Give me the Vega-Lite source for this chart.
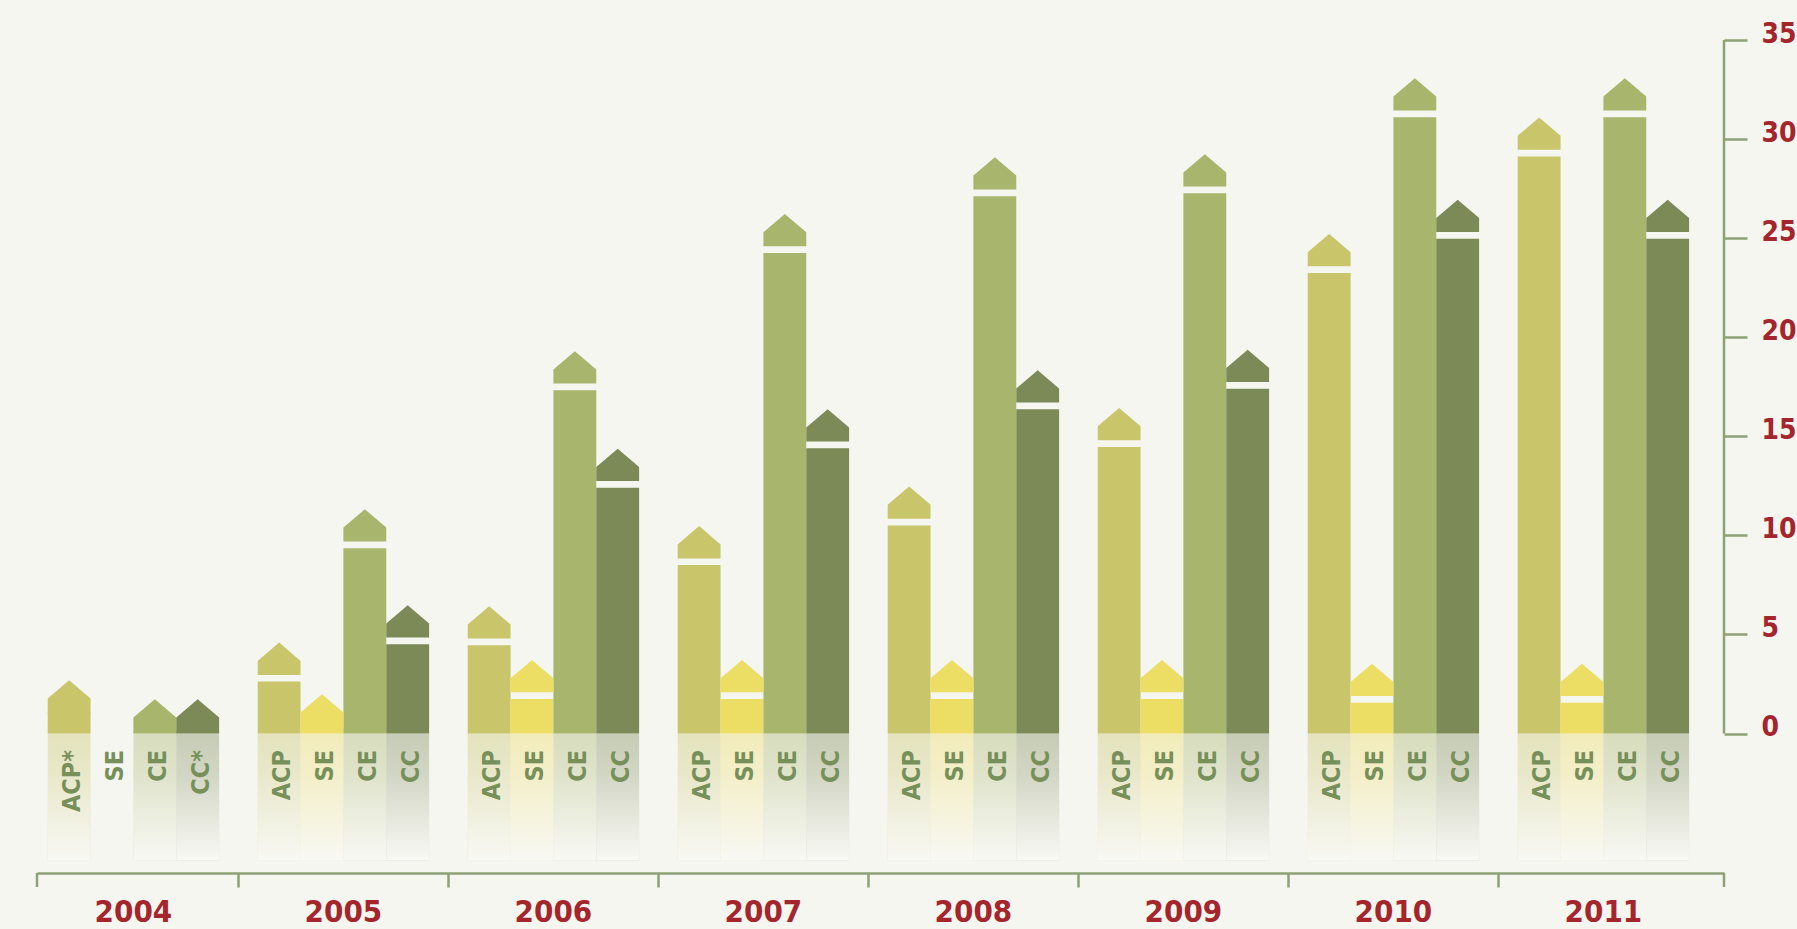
{
  "$schema": "https://vega.github.io/schema/vega-lite/v6.json",
  "width": 1687,
  "height": 833,
  "autosize": {"type": "none"},
  "padding": {"left": 37, "top": 40, "right": 73, "bottom": 56},
  "background": "#f6f6f1",
  "config": {
    "view": {"stroke": null},
    "axisY": {
      "orient": "right",
      "title": null,
      "domain": false,
      "grid": false,
      "tickColor": "#8ca276",
      "tickWidth": 2.5,
      "tickSize": 23,
      "labelPadding": 14,
      "labelAlign": "left",
      "labelBaseline": "alphabetic",
      "labelOffset": 2,
      "labelColor": "#a4262c",
      "labelFont": "DejaVu Sans Condensed, Liberation Sans Narrow, Roboto, sans-serif",
      "labelFontWeight": "bold",
      "labelFontSize": 28
    }
  },
  "data": {"values": [
    {"year": "2004", "cat": "ACP", "label": "ACP*", "value": 1.06},
    {"year": "2004", "cat": "SE", "label": "SE", "value": null},
    {"year": "2004", "cat": "CE", "label": "CE", "value": 0.1},
    {"year": "2004", "cat": "CC", "label": "CC*", "value": 0.1},
    {"year": "2005", "cat": "ACP", "label": "ACP", "value": 2.62},
    {"year": "2005", "cat": "SE", "label": "SE", "value": 0.35},
    {"year": "2005", "cat": "CE", "label": "CE", "value": 9.35},
    {"year": "2005", "cat": "CC", "label": "CC", "value": 4.51},
    {"year": "2006", "cat": "ACP", "label": "ACP", "value": 4.46},
    {"year": "2006", "cat": "SE", "label": "SE", "value": 1.74},
    {"year": "2006", "cat": "CE", "label": "CE", "value": 17.32},
    {"year": "2006", "cat": "CC", "label": "CC", "value": 12.4},
    {"year": "2007", "cat": "ACP", "label": "ACP", "value": 8.5},
    {"year": "2007", "cat": "SE", "label": "SE", "value": 1.74},
    {"year": "2007", "cat": "CE", "label": "CE", "value": 24.25},
    {"year": "2007", "cat": "CC", "label": "CC", "value": 14.4},
    {"year": "2008", "cat": "ACP", "label": "ACP", "value": 10.5},
    {"year": "2008", "cat": "SE", "label": "SE", "value": 1.74},
    {"year": "2008", "cat": "CE", "label": "CE", "value": 27.12},
    {"year": "2008", "cat": "CC", "label": "CC", "value": 16.37},
    {"year": "2009", "cat": "ACP", "label": "ACP", "value": 14.46},
    {"year": "2009", "cat": "SE", "label": "SE", "value": 1.74},
    {"year": "2009", "cat": "CE", "label": "CE", "value": 27.27},
    {"year": "2009", "cat": "CC", "label": "CC", "value": 17.4},
    {"year": "2010", "cat": "ACP", "label": "ACP", "value": 23.24},
    {"year": "2010", "cat": "SE", "label": "SE", "value": 1.55},
    {"year": "2010", "cat": "CE", "label": "CE", "value": 31.1},
    {"year": "2010", "cat": "CC", "label": "CC", "value": 24.97},
    {"year": "2011", "cat": "ACP", "label": "ACP", "value": 29.12},
    {"year": "2011", "cat": "SE", "label": "SE", "value": 1.55},
    {"year": "2011", "cat": "CE", "label": "CE", "value": 31.1},
    {"year": "2011", "cat": "CC", "label": "CC", "value": 24.97}
  ]},
  "encoding": {
    "x": {
      "field": "year",
      "type": "nominal",
      "sort": ["2004", "2005", "2006", "2007", "2008", "2009", "2010", "2011"],
      "scale": {"paddingInner": 0.1838, "paddingOuter": 0.1086, "align": 0.235},
      "axis": {
        "title": null,
        "labels": false,
        "grid": false,
        "values": ["2005", "2006", "2007", "2008", "2009", "2010", "2011"],
        "domainColor": "#8ca276",
        "domainWidth": 2.5,
        "tickColor": "#8ca276",
        "tickWidth": 2.5,
        "tickSize": 14,
        "bandPosition": -0.1126
      }
    }
  },
  "layer": [
    {
      "transform": [{"filter": "isValid(datum.value)"}],
      "mark": {"type": "bar", "opacity": 0.38},
      "encoding": {
        "xOffset": {"field": "cat", "type": "nominal", "sort": ["ACP", "SE", "CE", "CC"], "scale": {"paddingInner": 0, "paddingOuter": 0}},
        "y": {"datum": 0, "type": "quantitative", "scale": {"domain": [-7.04, 35], "nice": false, "zero": false}, "axis": {"values": [0, 5, 10, 15, 20, 25, 30, 35]}},
        "y2": {"datum": -6.4},
        "color": {"field": "cat", "type": "nominal", "scale": {"domain": ["ACP", "SE", "CE", "CC"], "range": ["#c8c56a", "#ecde64", "#a7b66c", "#7b8a57"]}, "legend": null}
      }
    },
    {
      "transform": [{"filter": "isValid(datum.value)"}],
      "mark": {"type": "bar", "color": {"gradient": "linear", "x1": 0, "y1": 0, "x2": 0, "y2": 1, "stops": [
        {"offset": 0, "color": "rgba(248,248,244,0)"},
        {"offset": 0.3, "color": "rgba(248,248,244,0.2)"},
        {"offset": 1, "color": "rgba(248,248,244,1)"}
      ]}},
      "encoding": {
        "xOffset": {"field": "cat", "type": "nominal", "sort": ["ACP", "SE", "CE", "CC"], "scale": {"paddingInner": 0, "paddingOuter": 0}},
        "y": {"datum": 0, "type": "quantitative", "scale": {"domain": [-7.04, 35], "nice": false, "zero": false}, "axis": {"values": [0, 5, 10, 15, 20, 25, 30, 35]}},
        "y2": {"datum": -6.4}
      }
    },
    {
      "mark": {"type": "bar"},
      "encoding": {
        "xOffset": {"field": "cat", "type": "nominal", "sort": ["ACP", "SE", "CE", "CC"], "scale": {"paddingInner": 0, "paddingOuter": 0}},
        "y": {"field": "value", "type": "quantitative", "scale": {"domain": [-7.04, 35], "nice": false, "zero": false}, "axis": {"values": [0, 5, 10, 15, 20, 25, 30, 35]}},
        "y2": {"datum": 0},
        "color": {"field": "cat", "type": "nominal", "scale": {"domain": ["ACP", "SE", "CE", "CC"], "range": ["#c8c56a", "#ecde64", "#a7b66c", "#7b8a57"]}, "legend": null}
      }
    },
    {
      "transform": [{"filter": "isValid(datum.value)"}],
      "mark": {"type": "point", "filled": true, "opacity": 1, "size": 1836, "strokeWidth": 0},
      "encoding": {
        "xOffset": {"field": "cat", "type": "nominal", "sort": ["ACP", "SE", "CE", "CC"], "scale": {"paddingInner": 0, "paddingOuter": 0}},
        "y": {"field": "value", "type": "quantitative", "scale": {"domain": [-7.04, 35], "nice": false, "zero": false}, "axis": {"values": [0, 5, 10, 15, 20, 25, 30, 35]}},
        "shape": {
          "condition": {"test": "datum.year == '2004' || datum.value < 0.5", "value": "M-1,0.06L1,0.06L1,-0.6533L0,-1.507L-1,-0.6533Z"},
          "value": "M-1,-0.3127L1,-0.3127L1,-0.966L0,-1.82L-1,-0.966Z"
        },
        "color": {"field": "cat", "type": "nominal", "scale": {"domain": ["ACP", "SE", "CE", "CC"], "range": ["#c8c56a", "#ecde64", "#a7b66c", "#7b8a57"]}, "legend": null}
      }
    },
    {
      "mark": {"type": "text", "angle": 270, "align": "right", "baseline": "middle", "dy": 3, "font": "DejaVu Sans Condensed, Liberation Sans Narrow, Roboto, sans-serif", "fontWeight": "bold", "fontSize": 25, "color": "#77905a"},
      "encoding": {
        "xOffset": {"field": "cat", "type": "nominal", "sort": ["ACP", "SE", "CE", "CC"], "scale": {"paddingInner": 0, "paddingOuter": 0}},
        "y": {"datum": -0.83, "type": "quantitative", "scale": {"domain": [-7.04, 35], "nice": false, "zero": false}, "axis": {"values": [0, 5, 10, 15, 20, 25, 30, 35]}},
        "text": {"field": "label", "type": "nominal"}
      }
    },
    {
      "transform": [{"aggregate": [{"op": "count", "as": "n"}], "groupby": ["year"]}],
      "mark": {"type": "text", "align": "center", "baseline": "alphabetic", "dy": 49, "font": "DejaVu Sans Condensed, Liberation Sans Narrow, Roboto, sans-serif", "fontWeight": "bold", "fontSize": 31, "color": "#a4262c"},
      "encoding": {
        "y": {"value": "height"},
        "text": {"field": "year", "type": "nominal"}
      }
    },
    {
      "data": {"values": [{"k": 1}]},
      "mark": {"type": "rule", "color": "#8ca276", "strokeWidth": 2.5},
      "encoding": {
        "x": {"value": "width"},
        "y": {"datum": 0, "type": "quantitative", "scale": {"domain": [-7.04, 35], "nice": false, "zero": false}, "axis": {"values": [0, 5, 10, 15, 20, 25, 30, 35]}},
        "y2": {"datum": 35}
      }
    },
    {
      "data": {"values": [{"side": "end"}]},
      "mark": {"type": "rule", "color": "#8ca276", "strokeWidth": 2.5, "y2Offset": 14},
      "encoding": {
        "x": {"value": "width"},
        "y": {"value": "height"},
        "y2": {"value": "height"}
      }
    },
    {
      "data": {"values": [{"side": "start"}]},
      "mark": {"type": "rule", "color": "#8ca276", "strokeWidth": 2.5, "y2Offset": 14},
      "encoding": {
        "x": {"value": 0},
        "y": {"value": "height"},
        "y2": {"value": "height"}
      }
    }
  ]
}
